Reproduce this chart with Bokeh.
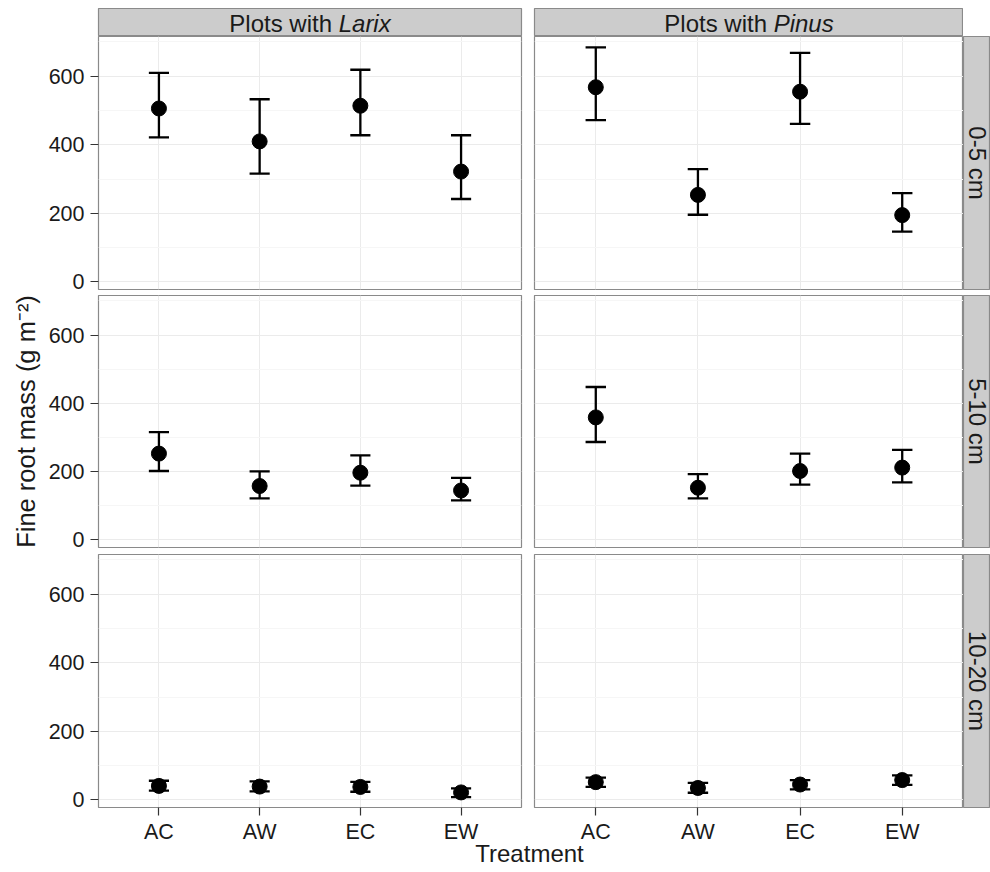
import math
from bokeh.plotting import figure
from bokeh.layouts import column, row, Spacer
from bokeh.models import Range1d, FixedTicker
from bokeh.core.properties import value
from bokeh.embed import file_html
from bokeh.resources import INLINE

# ---------------- data ----------------
treatments = ["AC", "AW", "EC", "EW"]
species = ["Larix", "Pinus"]
depths = ["0-5 cm", "5-10 cm", "10-20 cm"]
y_ticks = [0, 200, 400, 600]
y_minor = [100, 300, 500, 700]

larix_0_5_mean = [506, 410, 514, 322]
larix_0_5_lower = [422, 316, 428, 242]
larix_0_5_upper = [610, 533, 619, 428]
pinus_0_5_mean = [568, 254, 555, 195]
pinus_0_5_lower = [472, 196, 461, 147]
pinus_0_5_upper = [684, 329, 668, 259]

larix_5_10_mean = [253, 158, 197, 145]
larix_5_10_lower = [202, 122, 159, 116]
larix_5_10_upper = [316, 201, 248, 182]
pinus_5_10_mean = [359, 153, 202, 212]
pinus_5_10_lower = [287, 122, 162, 169]
pinus_5_10_upper = [448, 193, 253, 264]

larix_10_20_mean = [41, 39, 38, 22]
larix_10_20_lower = [27, 25, 24, 8]
larix_10_20_upper = [56, 54, 53, 34]
pinus_10_20_mean = [52, 35, 45, 58]
pinus_10_20_lower = [38, 21, 31, 44]
pinus_10_20_upper = [65, 50, 58, 72]

panels = {
    (0, 0): (larix_0_5_mean, larix_0_5_lower, larix_0_5_upper),
    (1, 0): (pinus_0_5_mean, pinus_0_5_lower, pinus_0_5_upper),
    (0, 1): (larix_5_10_mean, larix_5_10_lower, larix_5_10_upper),
    (1, 1): (pinus_5_10_mean, pinus_5_10_lower, pinus_5_10_upper),
    (0, 2): (larix_10_20_mean, larix_10_20_lower, larix_10_20_upper),
    (1, 2): (pinus_10_20_mean, pinus_10_20_lower, pinus_10_20_upper),
}

# ---------------- style ----------------
FONT = "Liberation Sans"
TXT = "#1a1a1a"
STRIP_FILL = "#CCCCCC"
BORDER = "#8a8a8a"
GRID_MAJ = "#EBEBEB"
GRID_MIN = "#F6F6F6"
YR = (-22, 716)
FW = [423, 429]
FH = [253, 252, 253]
BT = [0, 0, 1]
BB = [6, 6, 50]
BL = [98, 7]
BR = [6, 0]
STRIP_FS = 24
TOP_H = 36
GRID_BOTTOM = TOP_H + sum(BT) + sum(FH) + sum(BB)   # bottom edge of the panel block (857)
XLAB_TOP = 828                                        # x-title canvas starts here
XLAB_H = 872 - XLAB_TOP
XLAB_OVERLAP = GRID_BOTTOM - XLAB_TOP
XLAB_MID = 853                                        # vertical centre of the x title

ARIAL_W = {"P": .667, "l": .222, "o": .556, "t": .278, "s": .5, " ": .278, "w": .722,
           "i": .222, "h": .556, "L": .556, "a": .556, "r": .333, "x": .5, "n": .556,
           "u": .556}


def twidth(s, fs):
    return sum(ARIAL_W.get(c, .556) for c in s) * fs


def base_fig(fw, fh, bl, br, bt, bb, xr, yr, xloc=None, yloc=None, **kw):
    p = figure(frame_width=fw, frame_height=fh, min_border_left=bl, min_border_right=br,
               min_border_top=bt, min_border_bottom=bb, x_range=xr, y_range=yr,
               x_axis_location=xloc, y_axis_location=yloc, toolbar_location=None,
               tools="", output_backend="svg", **kw)
    p.border_fill_color = "white"
    return p


def panel(ci, ri):
    mean, lower, upper = panels[(ci, ri)]
    xs = list(range(1, len(treatments) + 1))
    p = base_fig(FW[ci], FH[ri], BL[ci], BR[ci], BT[ri], BB[ri],
                 Range1d(0.4, len(treatments) + 0.6), Range1d(*YR),
                 xloc="below" if ri == 2 else None,
                 yloc="left" if ci == 0 else None)
    p.background_fill_color = "white"
    p.outline_line_color = BORDER
    p.outline_line_width = 1.2
    p.xgrid.ticker = FixedTicker(ticks=xs)
    p.ygrid.ticker = FixedTicker(ticks=y_ticks, minor_ticks=y_minor)
    p.xgrid.grid_line_color = GRID_MAJ
    p.ygrid.grid_line_color = GRID_MAJ
    p.ygrid.minor_grid_line_color = GRID_MIN
    for ax in list(p.xaxis) + list(p.yaxis):
        ax.axis_line_color = None
        ax.major_tick_line_color = "#333333"
        ax.major_tick_line_width = 1.2
        ax.major_tick_out = 8
        ax.major_tick_in = 0
        ax.minor_tick_line_color = None
        ax.major_label_text_font = FONT
        ax.major_label_text_font_size = "21.5px"
        ax.major_label_text_color = TXT
    if ri == 2:
        p.xaxis.ticker = FixedTicker(ticks=xs)
        p.xaxis.major_label_overrides = {i: t for i, t in zip(xs, treatments)}
        p.xaxis.major_label_standoff = 4
    if ci == 0:
        p.yaxis.ticker = FixedTicker(ticks=y_ticks)
        p.yaxis.major_label_standoff = 6
        if ri == 1:
            p.yaxis.axis_label = "Fine root mass (g m\u207b\u00b2)"
            p.yaxis.axis_label_text_font = FONT
            p.yaxis.axis_label_text_font_size = "25.5px"
            p.yaxis.axis_label_text_font_style = "normal"
            p.yaxis.axis_label_text_color = TXT
            p.yaxis.axis_label_standoff = 6
    half = 0.1
    p.segment(x0=xs, y0=lower, x1=xs, y1=upper, line_color="black", line_width=2.3)
    p.segment(x0=[x - half for x in xs], y0=upper, x1=[x + half for x in xs], y1=upper,
              line_color="black", line_width=2.3)
    p.segment(x0=[x - half for x in xs], y0=lower, x1=[x + half for x in xs], y1=lower,
              line_color="black", line_width=2.3)
    p.scatter(x=xs, y=mean, size=15, marker="circle", fill_color="black", line_color="black")
    return p


def top_strip(ci):
    fw = FW[ci]
    p = base_fig(fw, 28, BL[ci], BR[ci], 8, 0, Range1d(0, fw), Range1d(0, 28))
    p.grid.visible = False
    p.background_fill_color = STRIP_FILL
    p.outline_line_color = BORDER
    p.outline_line_width = 1.2
    first = "Plots with"
    sp = species[ci]
    total = twidth(first + " " + sp, STRIP_FS)
    start = fw / 2 - total / 2
    split = start + twidth(first + " ", STRIP_FS)
    p.text(x=[start], y=[13.5], text=[first], text_align="left", text_baseline="middle",
           text_font=value(FONT), text_font_size=f"{STRIP_FS}px", text_color=TXT)
    p.text(x=[split], y=[13.5], text=[sp], text_align="left", text_baseline="middle",
           text_font=value(FONT), text_font_size=f"{STRIP_FS}px", text_font_style="italic",
           text_color=TXT)
    return p


def right_strip(ri):
    p = base_fig(27, FH[ri], 0, 0, BT[ri], BB[ri], Range1d(0, 27), Range1d(0, FH[ri]))
    p.grid.visible = False
    p.background_fill_color = STRIP_FILL
    p.outline_line_color = BORDER
    p.outline_line_width = 1.2
    p.text(x=[14], y=[FH[ri] / 2], text=[depths[ri]], angle=-math.pi / 2,
           text_align="center", text_baseline="middle", text_font=value(FONT),
           text_font_size=f"{STRIP_FS}px", text_color=TXT)
    return p


left_col = column([top_strip(0)] + [panel(0, r) for r in range(3)])
right_col = column([top_strip(1)] + [panel(1, r) for r in range(3)])
strip_col = column([Spacer(width=27, height=TOP_H)] + [right_strip(r) for r in range(3)])

# x-axis title: a transparent canvas pulled up over the bottom border of the panels
xlab = base_fig(990, XLAB_H, 0, 0, 0, 0, Range1d(0, 990), Range1d(0, XLAB_H),
                margin=(-XLAB_OVERLAP, 0, 0, 0))
xlab.grid.visible = False
xlab.outline_line_color = None
xlab.background_fill_color = None
xlab.border_fill_color = None
xlab.text(x=[529], y=[872 - XLAB_MID], text=["Treatment"], text_align="center",
          text_baseline="middle", text_font=value(FONT), text_font_size="24px",
          text_color=TXT)

layout = column(row(left_col, right_col, strip_col), xlab)

with open("out.html", "w") as f:
    f.write(file_html(layout, INLINE))
